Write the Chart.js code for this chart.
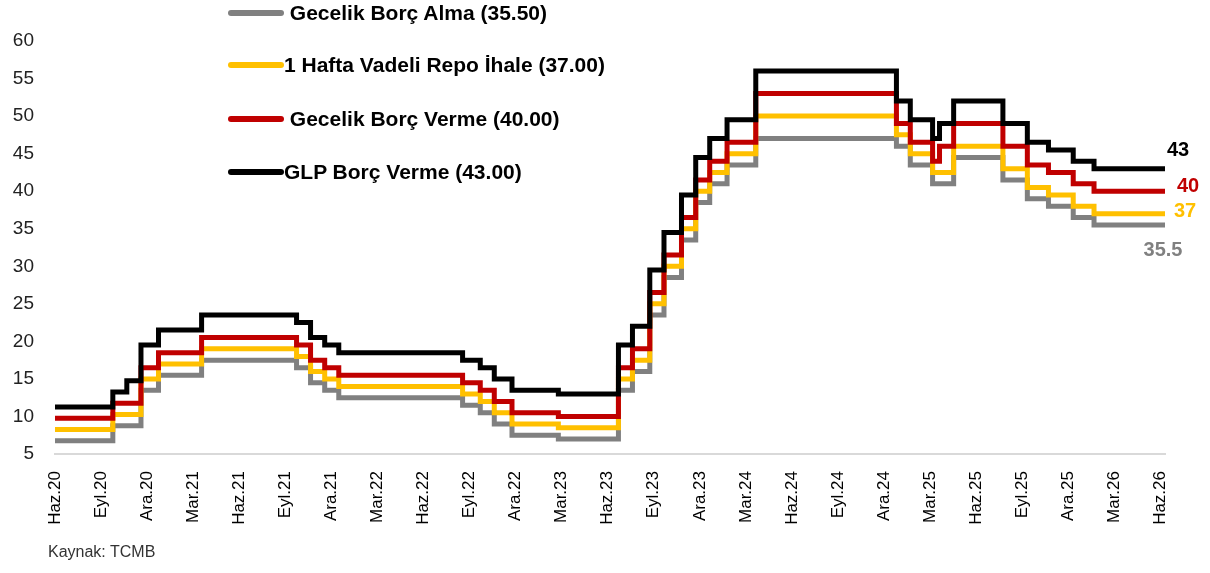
<!DOCTYPE html>
<html>
<head>
<meta charset="utf-8">
<script src="https://cdn.jsdelivr.net/npm/chart.js@4/dist/chart.umd.min.js"></script>
<style>
  body { margin: 0; background: #fff; }
  #wrap { position: relative; width: 1210px; height: 573px; }
  #legend { position: absolute; left: 228px; top: 0; font: bold 21px "Liberation Sans", Arial, sans-serif; color: #000; }
  .item { position: absolute; left: 0; display: flex; align-items: center; white-space: pre; height: 26px; }
  .swatch { width: 56px; height: 6px; border-radius: 3px; margin-right: 0; }
  #source { position: absolute; left: 48px; top: 543px; font: 16px "Liberation Sans", Arial, sans-serif; color: #333; }
</style>
</head>
<body>
<div id="wrap">
  <canvas id="rates" width="1210" height="573"></canvas>
  <div id="legend"></div>
  <div id="source">Kaynak: TCMB</div>
</div>
<script>
// tick labels of the x axis (every 3 months from June 2020)
const tickLabels = ["Haz.20","Eyl.20","Ara.20","Mar.21","Haz.21","Eyl.21","Ara.21","Mar.22","Haz.22",
  "Eyl.22","Ara.22","Mar.23","Haz.23","Eyl.23","Ara.23","Mar.24","Haz.24","Eyl.24","Ara.24",
  "Mar.25","Haz.25","Eyl.25","Ara.25","Mar.26","Haz.26"];

// dates at which the rates changed (last one = end of the series)
const changeDates = ["2020-06-01","2020-09-24","2020-10-22","2020-11-19","2020-12-24","2021-03-18",
  "2021-09-23","2021-10-21","2021-11-18","2021-12-16","2022-08-18","2022-09-22","2022-10-20",
  "2022-11-24","2023-02-23","2023-06-22","2023-07-20","2023-08-24","2023-09-21","2023-10-26",
  "2023-11-23","2023-12-21","2024-01-25","2024-03-21","2024-12-26","2025-01-23","2025-03-06",
  "2025-03-20","2025-04-17","2025-07-24","2025-09-11","2025-10-23","2025-12-11","2026-01-22",
  "2026-06-10"];

const borrowing = [6.75, 8.75, 8.75, 13.5, 15.5, 17.5, 16.5, 14.5, 13.5, 12.5, 11.5, 10.5, 9, 7.5, 7,
  13.5, 16, 23.5, 28.5, 33.5, 38.5, 41, 43.5, 47, 46, 43.5, 41, 41, 44.5, 41.5, 39, 38, 36.5, 35.5, 35.5];
const repo = [8.25, 10.25, 10.25, 15, 17, 19, 18, 16, 15, 14, 13, 12, 10.5, 9, 8.5,
  15, 17.5, 25, 30, 35, 40, 42.5, 45, 50, 47.5, 45, 42.5, 42.5, 46, 43, 40.5, 39.5, 38, 37, 37];
const lending = [9.75, 11.75, 11.75, 16.5, 18.5, 20.5, 19.5, 17.5, 16.5, 15.5, 14.5, 13.5, 12, 10.5, 10,
  16.5, 19, 26.5, 31.5, 36.5, 41.5, 44, 46.5, 53, 49, 46.5, 44, 46, 49, 46, 43.5, 42.5, 41, 40, 40];
const llw = [11.25, 13.25, 14.75, 19.5, 21.5, 23.5, 22.5, 20.5, 19.5, 18.5, 17.5, 16.5, 15, 13.5, 13,
  19.5, 22, 29.5, 34.5, 39.5, 44.5, 47, 49.5, 56, 52, 49.5, 47, 49, 52, 49, 46.5, 45.5, 44, 43, 43];

const seriesNames = ["\u00a0Gecelik Borç Alma (35.50)", "1 Hafta Vadeli Repo İhale (37.00)",
  "\u00a0Gecelik Borç Verme (40.00)", "GLP Borç Verme (43.00)"];
const seriesColors = ["#808080", "#FFC000", "#C00000", "#000000"];

// months since 1 June 2020
function monthIndex(s) {
  const [y, m, d] = s.split("-").map(Number);
  const days = new Date(y, m, 0).getDate();
  return (y - 2020) * 12 + (m - 6) + (d - 1) / days;
}
const xs = changeDates.map(monthIndex);
const toPoints = vals => vals.map((v, i) => ({ x: xs[i], y: v }));

// end label offsets relative to last point (px)
const endOffsets = [[-2, 26], [20, -2], [23, -5], [13, -18]];

const endLabels = {
  id: "endLabels",
  afterDatasetsDraw(chart) {
    const ctx = chart.ctx;
    chart.data.datasets.forEach((ds, i) => {
      const meta = chart.getDatasetMeta(i);
      const pt = meta.data[meta.data.length - 1];
      ctx.save();
      ctx.font = 'bold 20px "Liberation Sans"';
      ctx.fillStyle = ds.borderColor;
      ctx.textAlign = "center";
      ctx.textBaseline = "middle";
      ctx.fillText(String(ds.data[ds.data.length - 1].y), pt.x + endOffsets[i][0], pt.y + endOffsets[i][1]);
      ctx.restore();
    });
  }
};

Chart.defaults.font.family = '"Liberation Sans", Arial, sans-serif';

const allSeries = [borrowing, repo, lending, llw];
new Chart(document.getElementById("rates"), {
  type: "line",
  data: {
    datasets: allSeries.map((vals, i) => ({
      label: seriesNames[i],
      data: toPoints(vals),
      borderColor: seriesColors[i],
      backgroundColor: seriesColors[i],
      borderWidth: 5,
      borderCapStyle: "round",
      stepped: true,
      pointRadius: 0,
      order: 4 - i
    }))
  },
  options: {
    responsive: false,
    animation: false,
    devicePixelRatio: 1,
    layout: { padding: { top: 41, right: 45, bottom: 0, left: 0 } },
    plugins: { legend: { display: false }, tooltip: { enabled: false } },
    scales: {
      x: {
        type: "linear",
        min: 0,
        max: xs[xs.length - 1],
        grid: { display: false },
        border: { display: true, color: "#d9d9d9", width: 2 },
        afterBuildTicks: axis => { axis.ticks = tickLabels.map((_, i) => ({ value: i * 3 })); },
        afterFit: axis => { axis.height = 119; },
        ticks: {
          autoSkip: false,
          minRotation: 90,
          maxRotation: 90,
          padding: 9,
          color: "#000",
          font: { size: 17 },
          callback: v => tickLabels[Math.round(v / 3)]
        }
      },
      y: {
        min: 5,
        max: 60,
        grid: { display: false, drawTicks: false },
        border: { display: false },
        afterFit: axis => { axis.width = 55; },
        ticks: { stepSize: 5, padding: 21, color: "#222", font: { size: 19 } }
      }
    }
  },
  plugins: [endLabels]
});

// legend drawn as html over the plot
const legend = document.getElementById("legend");
const legendTops = [0, 52, 106, 159];
seriesNames.forEach((name, i) => {
  const item = document.createElement("div");
  item.className = "item";
  item.style.top = legendTops[i] + "px";
  const sw = document.createElement("span");
  sw.className = "swatch";
  sw.style.background = seriesColors[i];
  const txt = document.createElement("span");
  txt.textContent = name;
  item.appendChild(sw);
  item.appendChild(txt);
  legend.appendChild(item);
});
</script>
</body>
</html>
